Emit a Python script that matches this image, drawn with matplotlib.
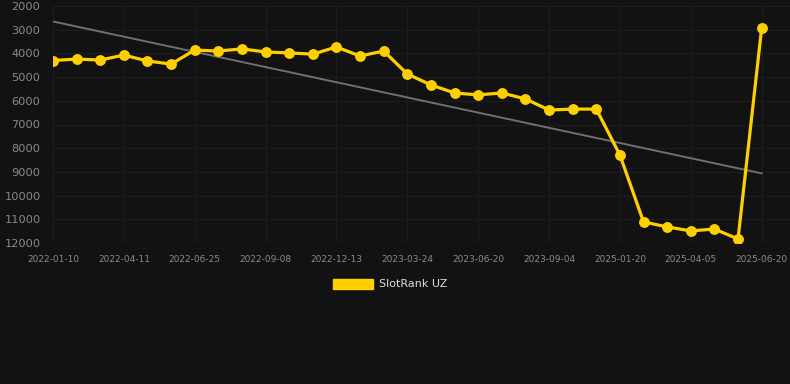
import numpy as np
from matplotlib import pyplot as plt

# SlotRank UZ values (lower rank = better, y axis inverted)
rank = [4300, 4240, 4280, 4070, 4320, 4450, 3860, 3900, 3810, 3940,
        3980, 4030, 3730, 4110, 3900, 4870, 5330, 5670, 5750, 5670,
        5920, 6390, 6350, 6350, 8290, 11110, 11320, 11490, 11410, 11830,
        2930]
tick_labels = ["2022-01-10", "2022-04-11", "2022-06-25", "2022-09-08",
               "2022-12-13", "2023-03-24", "2023-06-20", "2023-09-04",
               "2025-01-20", "2025-04-05", "2025-06-20"]
yticks = [2000, 3000, 4000, 5000, 6000, 7000, 8000, 9000, 10000, 11000, 12000]

x = np.arange(len(rank))
slope, icpt = np.polyfit(x, rank, 1)

bg = "#121212"
fig = plt.figure(figsize=(7.9, 3.84), dpi=100, facecolor=bg)
ax = fig.add_axes([53 / 790, 141 / 384, 737 / 790, 237 / 384], facecolor=bg)

ax.plot(x, slope * x + icpt, color="#707070", lw=1.4, zorder=2)
ax.plot(x, rank, color="#FFD000", lw=2.3, marker="o", ms=6.8, zorder=3)

ax.set_ylim(12000, 2000)
ax.set_xlim(0, 31.2)
ax.set_yticks(yticks)
ax.set_yticklabels([str(v) for v in yticks], color="#8a8a8a", fontsize=8.2)
ax.set_xticks(x[::3])
ax.set_xticklabels(tick_labels, color="#8a8a8a", fontsize=6.5)
ax.tick_params(length=0, pad=9)
ax.tick_params(axis="x", pad=9)
ax.grid(True, color="#1d1d1d", lw=0.8)
for s in ax.spines.values():
    s.set_visible(False)
ax.axhline(12000, color="#2e2e2e", lw=1, zorder=1)

# legend
fig.patches.append(plt.Rectangle((333 / 790, 1 - 289 / 384), 40 / 790, 10 / 384,
                                 transform=fig.transFigure, color="#FFD000"))
fig.text(379 / 790, 1 - 284 / 384, "SlotRank UZ", color="#dddddd",
         fontsize=8, va="center")

plt.savefig("out.png", facecolor=bg)
